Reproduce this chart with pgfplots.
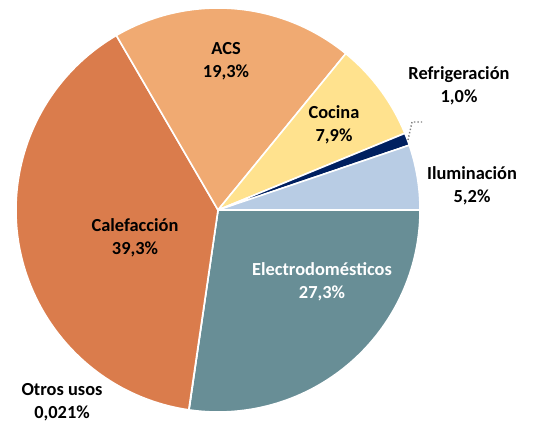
\documentclass[border=0pt]{standalone}
\usepackage{pgfplots}
\pgfplotsset{compat=1.18}
\usepackage{pgfplotstable}
\usepackage{fontspec}
\setmainfont{Carlito}

\definecolor{cElec}{RGB}{104,142,150}
\definecolor{cOtros}{RGB}{150,150,150}
\definecolor{cCalef}{RGB}{218,124,76}
\definecolor{cACS}{RGB}{240,170,114}
\definecolor{cCocina}{RGB}{255,226,142}
\definecolor{cRefr}{RGB}{0,32,96}
\definecolor{cIlum}{RGB}{184,204,228}

% slices clockwise from 3 o'clock
\pgfplotstableread[col sep=comma]{
value,color
27.3,cElec
0.021,cOtros
39.3,cCalef
19.3,cACS
7.9,cCocina
1.0,cRefr
5.2,cIlum
}\piedata

\def\total{0}
\pgfplotsforeachungrouped \i in {0,...,6}{%
  \pgfplotstablegetelem{\i}{value}\of\piedata
  \pgfmathsetmacro\total{\total+\pgfplotsretval}%
}
\def\cum{0}
\pgfplotsforeachungrouped \i in {0,...,6}{%
  \pgfplotstablegetelem{\i}{value}\of\piedata
  \pgfmathsetmacro\aStart{-\cum/\total*360}%
  \pgfmathsetmacro\cum{\cum+\pgfplotsretval}%
  \pgfmathsetmacro\aEnd{-\cum/\total*360}%
  \expandafter\xdef\csname aS\i\endcsname{\aStart}%
  \expandafter\xdef\csname aE\i\endcsname{\aEnd}%
  \pgfplotstablegetelem{\i}{color}\of\piedata
  \expandafter\xdef\csname col\i\endcsname{\pgfplotsretval}%
}

\newcommand\lbl{\fontsize{9.2}{11.5}\selectfont\bfseries}

\begin{document}
\begin{tikzpicture}
  \begin{axis}[
    hide axis,
    scale only axis,
    width=267pt,
    height=211.5pt,
    xmin=0, xmax=534,
    ymin=0, ymax=423,
    clip=false
  ]
    \pgfplotsinvokeforeach{0,...,6}{
      \edef\slice{\noexpand\filldraw[fill=\csname col#1\endcsname,
          draw=white, line width=0.8pt, line join=round]
        (axis cs:218,213) -- ++(\csname aS#1\endcsname:101pt)
        arc[start angle=\csname aS#1\endcsname,
            end angle=\csname aE#1\endcsname, radius=101pt] -- cycle;}
      \slice
    }
    \draw[gray, densely dotted, line width=0.7pt]
      (axis cs:408,283) -- (axis cs:412,301) -- (axis cs:423,301);

    \node[align=center, font=\lbl] at (axis cs:226,362) {ACS\\19,3\%};
    \node[align=center, font=\lbl] at (axis cs:334,298) {Cocina\\7,9\%};
    \node[align=center, font=\lbl] at (axis cs:459,337) {Refrigeración\\1,0\%};
    \node[align=center, font=\lbl] at (axis cs:472,237) {Iluminación\\5,2\%};
    \node[align=center, font=\lbl] at (axis cs:135,185) {Calefacción\\39,3\%};
    \node[align=center, font=\lbl, text=white] at (axis cs:322,141) {Electrodomésticos\\27,3\%};
    \node[align=center, font=\lbl] at (axis cs:62,21) {Otros usos\\0,021\%};
  \end{axis}
  \pgfresetboundingbox
  \path (current axis.south west) rectangle (current axis.north east);
\end{tikzpicture}
\end{document}
